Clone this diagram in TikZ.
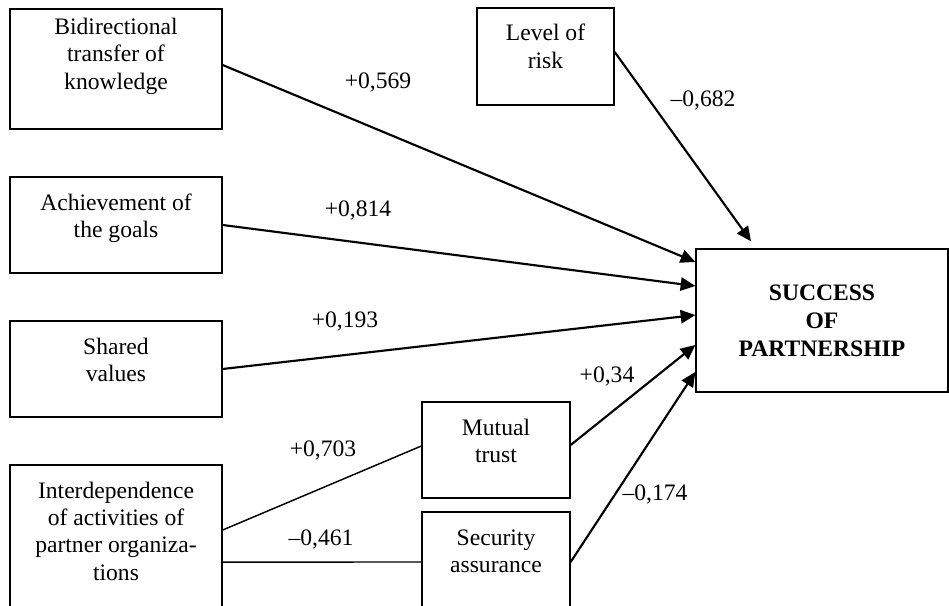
\documentclass[tikz,border=0pt]{standalone}
\usepackage{fontspec}
\setmainfont{Liberation Serif}
\usetikzlibrary{arrows.meta}

\begin{document}
\begin{tikzpicture}[x=0.75pt,y=0.75pt,
every node/.style={font=\fontsize{17.7}{20.6}\selectfont},
box/.style={draw,line width=1pt,inner sep=0pt,align=flush center,text height=24.75pt},
goal/.style={draw,line width=1pt,align=flush center,minimum width=189pt,minimum height=107.25pt,font=\fontsize{17.7}{21}\selectfont\bfseries},
arr/.style={line width=1.6pt,-{Triangle[length=11pt,width=10pt]}},
link/.style={line width=1.1pt}]
\useasboundingbox (0,0) rectangle (949,-606);
\node [box,text width=159pt,text height=19pt,text depth=71pt] (bidir) at (116,-69) {Bidirectional\\transfer of\\knowledge};
\node [box,text width=159pt,text depth=47.25pt] (goals) at (116,-225) {Achievement of\\the goals};
\node [box,text width=159pt,text depth=47.25pt] (shared) at (116,-369) {Shared\\values};
\node [box,text width=159pt,text depth=84pt] (interdep) at (116,-537.5) {Interdependence\\of activities of\\partner organiza-\\tions};
\node [box,text width=102.75pt,text depth=48pt] (risk) at (545.5,-56.5) {Level of\\risk};
\node [box,text width=111pt,text depth=47.25pt] (mutual) at (496,-450) {Mutual\\trust};
\node [box,text width=111pt,text depth=48.75pt] (security) at (496,-561) {Security\\assurance};
\node [goal] (success) at (822,-320.5) {SUCCESS\\OF\\PARTNERSHIP};
\draw [arr] ([yshift=3pt]bidir.east) -- ([yshift=43.9pt]success.west);
\draw [arr] (goals.east) -- ([yshift=25.9pt]success.west);
\draw [arr] (shared.east) -- ([yshift=4.1pt]success.west);
\draw [link] ([yshift=5.6pt]interdep.east) -- ([yshift=3pt]mutual.west);
\draw [link] ([yshift=-18.4pt]interdep.east) -- ([yshift=-0.75pt]security.west);
\draw [arr] ([yshift=3.75pt]mutual.east) -- ([yshift=-18.4pt]success.west);
\draw [arr] ([yshift=-0.75pt]security.east) -- ([yshift=-38.6pt]success.west);
\draw [arr] ([yshift=3.4pt]risk.east) -- ([xshift=-53.25pt,yshift=5.25pt]success.north);
\node (w569) at (378,-82) {+0,569};
\node (w814) at (358,-210) {+0,814};
\node (w193) at (345,-321) {+0,193};
\node (w703) at (323,-450) {+0,703};
\node (w461) at (321,-539) {--0,461};
\node (w682) at (703,-100) {--0,682};
\node (w34) at (607,-376) {+0,34};
\node (w174) at (655,-494) {--0,174};
\end{tikzpicture}
\end{document}
